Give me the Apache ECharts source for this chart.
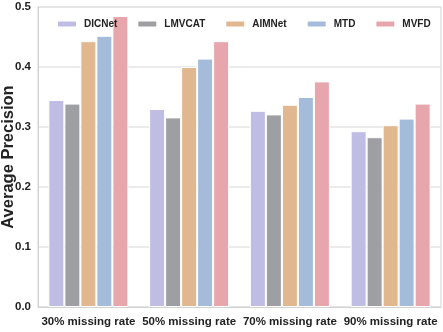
<!DOCTYPE html>
<html>
<head>
<meta charset="utf-8">
<script src="https://cdn.jsdelivr.net/npm/echarts@6/dist/echarts.min.js"></script>
<style>
html,body{margin:0;padding:0;background:#fff;}
#main{width:443px;height:332px;}
</style>
</head>
<body>
<div id="main"></div>
<script>
var categories = ['30% missing rate', '50% missing rate', '70% missing rate', '90% missing rate'];
var methods = ['DICNet', 'LMVCAT', 'AIMNet', 'MTD', 'MVFD'];
var dicnet = [0.345, 0.330, 0.327, 0.293];
var lmvcat = [0.339, 0.316, 0.321, 0.283];
var aimnet = [0.443, 0.400, 0.337, 0.303];
var mtd    = [0.452, 0.414, 0.350, 0.314];
var mvfd   = [0.485, 0.443, 0.376, 0.339];

var colors = ['#bfbde4', '#9e9fa3', '#e0b78f', '#a5bbda', '#e7a6ab'];
var font = '"Liberation Sans", Arial, sans-serif';

var values = [dicnet, lmvcat, aimnet, mtd, mvfd];
var series = [];
for (var i = 0; i < methods.length; i++) {
    series.push({
        name: methods[i],
        type: 'bar',
        data: values[i],
        barWidth: 16,
        barGap: '0%',
        itemStyle: {color: colors[i], borderColor: '#fff', borderWidth: 1}
    });
}

var myChart = echarts.init(document.getElementById('main'));
var option = {
    animation: false,
    color: colors,
    grid: {
        left: 38, right: 2, top: 7, bottom: 25,
        containLabel: false,
        outerBoundsMode: 'none',
        show: true, borderColor: '#d2d2d2', borderWidth: 1
    },
    legend: {
        data: methods,
        left: 51,
        top: 14,
        width: 390,
        itemWidth: 20,
        itemHeight: 7,
        itemGap: 19,
        textStyle: {fontFamily: font, fontWeight: 'bold', fontSize: 10, color: '#222', padding: [0, 0, 0, 2]}
    },
    xAxis: {
        type: 'category',
        data: categories,
        axisLine: {show: true, lineStyle: {color: '#d2d2d2', width: 1}},
        axisTick: {show: false},
        axisLabel: {fontFamily: font, fontWeight: 'bold', fontSize: 11.5, color: '#222', margin: 9, interval: 0, hideOverlap: false}
    },
    yAxis: {
        type: 'value',
        min: 0, max: 0.5, interval: 0.1,
        name: 'Average Precision',
        nameLocation: 'middle',
        nameGap: 21,
        nameMoveOverlap: false,
        nameTextStyle: {fontFamily: font, fontWeight: 'bold', fontSize: 16.5, color: '#222'},
        axisLine: {show: true, lineStyle: {color: '#d2d2d2', width: 1}},
        axisTick: {show: false},
        splitLine: {lineStyle: {color: '#e4e4e4', width: 1.5}},
        axisLabel: {
            fontFamily: font, fontWeight: 'bold', fontSize: 11.5, color: '#222', margin: 7,
            formatter: function (v) { return v.toFixed(1); }
        }
    },
    series: series
};
myChart.setOption(option);
</script>
</body>
</html>
